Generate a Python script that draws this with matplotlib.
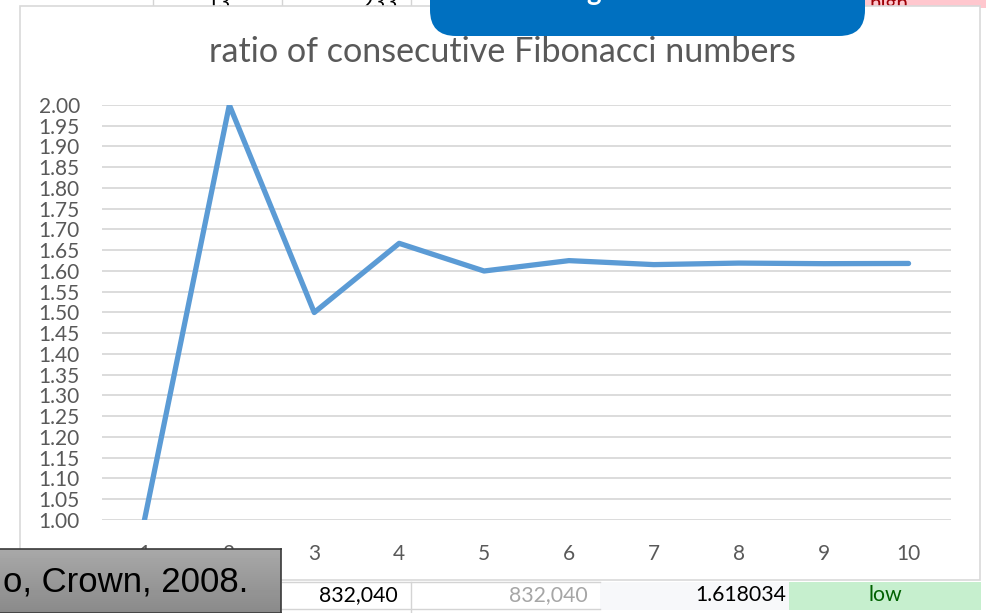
import matplotlib
matplotlib.use("Agg")
import matplotlib.pyplot as plt
from matplotlib.patches import Rectangle, FancyBboxPatch
from matplotlib.lines import Line2D
from matplotlib.ticker import MultipleLocator, FormatStrFormatter
import numpy as np

# Data: ratio F(n+1)/F(n) for the first ten terms
term_index = [1, 2, 3, 4, 5, 6, 7, 8, 9, 10]
ratio = [1.0, 2.0, 1.5, 1.666667, 1.6, 1.625, 1.615385, 1.619048, 1.617647, 1.618182]
title = "ratio of consecutive Fibonacci numbers"

W, H = 986, 613
fig = plt.figure(figsize=(W / 100, H / 100), dpi=100)
fig.patch.set_facecolor("white")
tr = fig.dpi_scale_trans


def px(x, y):
    """pixel coords (origin top-left) -> inches (origin bottom-left)"""
    return x / 100, (H - y) / 100


def box(x0, y0, x1, y1, **kw):
    p = Rectangle(px(x0, y1), (x1 - x0) / 100, (y1 - y0) / 100, transform=tr, **kw)
    fig.add_artist(p)
    return p


def hline(x0, x1, y, **kw):
    fig.add_artist(Line2D([x0 / 100, x1 / 100], [(H - y) / 100] * 2, transform=tr, **kw))


def vline(x, y0, y1, **kw):
    fig.add_artist(Line2D([x / 100] * 2, [(H - y0) / 100, (H - y1) / 100], transform=tr, **kw))


def text(x, y, s, **kw):
    kw.setdefault("family", ["Lato", "DejaVu Sans"])
    fig.text(*px(x, y), s, transform=tr, **kw)


# --- worksheet row above the chart (only its lower edge shows) ---
for x in (153, 282, 411):
    vline(x, -2, 8, color="#d4d4d4", lw=1, zorder=-5)
text(218, 10, "13", ha="center", va="baseline", fontsize=15, color="black", zorder=-4)
text(397, 10, "233", ha="right", va="baseline", fontsize=15, color="black", zorder=-4)
box(865, -5, 990, 8, facecolor="#FFC7CE", edgecolor="none", zorder=-5)
text(870, 10, "high", ha="left", va="baseline", fontsize=15, color="#9C0006", zorder=-4)

# --- chart area ---
box(20, 6, 980, 580, facecolor="white", edgecolor="#d9d9d9", lw=1.2, zorder=-1)

# --- worksheet row below the chart ---
box(600, 582, 789, 610, facecolor="#F7F8FA", edgecolor="none", zorder=-2)
box(789, 582, 981, 610, facecolor="#C6EFCE", edgecolor="none", zorder=-2)
hline(282, 600, 582, color="#d4d4d4", lw=1, zorder=-2)
hline(282, 600, 608.5, color="#d4d4d4", lw=1, zorder=-2)
vline(411, 582, 613, color="#d4d4d4", lw=1, zorder=-2)
text(398, 601, "832,040", ha="right", va="baseline", fontsize=15.3, color="black")
text(588, 601, "832,040", ha="right", va="baseline", fontsize=15.3, color="#a6a6a6")
text(786, 601, "1.618034", ha="right", va="baseline", fontsize=15.3, color="black")
text(885, 601, "low", ha="center", va="baseline", fontsize=15.3, color="#006100")

# --- plot ---
ax = fig.add_axes([102 / W, (H - 520) / H, (951 - 102) / W, (520 - 105) / H])
ax.set_facecolor("none")
ax.plot(term_index, ratio, color="#5B9BD5", lw=3.8, solid_capstyle="round",
        solid_joinstyle="round", zorder=3)
ax.set_xlim(0.5, 10.5)
ax.set_ylim(1.0, 2.0)
ax.yaxis.set_major_locator(MultipleLocator(0.05))
ax.yaxis.set_major_formatter(FormatStrFormatter("%.2f"))
ax.set_xticks(term_index)
ax.set_xticklabels([str(t) for t in term_index])
ax.grid(axis="y", color="#d9d9d9", lw=1.3)
ax.set_axisbelow(True)
for s in ax.spines.values():
    s.set_visible(False)
ax.tick_params(axis="both", length=0, labelcolor="#595959", labelsize=15)
ax.tick_params(axis="y", pad=16)
ax.tick_params(axis="x", pad=17)
for lab in ax.get_xticklabels() + ax.get_yticklabels():
    lab.set_family(["Lato", "DejaVu Sans"])

text(502, 62, title, ha="center", va="baseline", fontsize=24.6, color="#595959")

# --- blue shape overlapping the chart top ---
blue = FancyBboxPatch(px(430, 36), 435 / 100, 80 / 100,
                      boxstyle="round,pad=0,rounding_size=0.26",
                      transform=tr, facecolor="#0070C0", edgecolor="none", zorder=4)
fig.add_artist(blue)
text(594, 0, "g", ha="center", va="baseline", fontsize=20, color="white",
     fontweight="bold", zorder=5)

# --- grey text box at bottom left ---
gax = fig.add_axes([-5 / W, 0, (281 + 5) / W, (H - 549) / H], zorder=6)
grad = np.linspace(0.66, 0.54, 64).reshape(-1, 1)
gax.imshow(np.repeat(grad, 2, axis=1), cmap="gray", vmin=0, vmax=1,
           aspect="auto", extent=[0, 1, 0, 1])
gax.set_xticks([])
gax.set_yticks([])
for s in gax.spines.values():
    s.set_color("#3a3a3a")
    s.set_linewidth(1.2)
text(248, 591, "o, Crown, 2008.", ha="right", va="baseline", fontsize=25,
     color="black", family=["Liberation Sans", "DejaVu Sans"], zorder=7)

fig.savefig("out.png", dpi=100)
